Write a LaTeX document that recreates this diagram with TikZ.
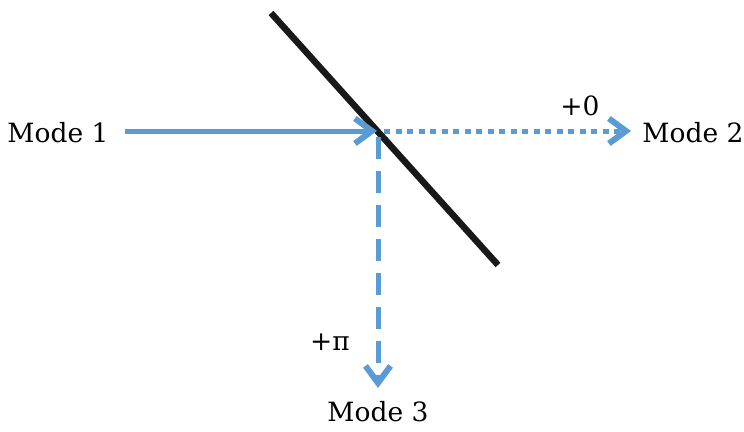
\documentclass[tikz,border=0pt]{standalone}
\usepackage{fontspec}
\setmainfont{DejaVu Serif}
\usetikzlibrary{arrows.meta}
\definecolor{beam}{HTML}{5B9BD5}
\tikzset{
  lbl/.style={font=\fontsize{26.5}{30}\selectfont, inner sep=2pt},
  beamline/.style={draw=beam, line width=5pt, -{Straight Barb[length=17pt,width=25pt,line width=6pt]}},
}
\begin{document}
\begin{tikzpicture}[x=1pt,y=-1pt]
\useasboundingbox (0,0) rectangle (744,431);
\coordinate (bs1) at (271,13);
\coordinate (bs2) at (498,265);
\coordinate (X) at (378,131);
\draw[line width=6.5pt, black!90] (bs1) -- (bs2);
\node[lbl] (m1) at (58,133) {Mode 1};
\node[lbl] (m2) at (693,133) {Mode 2};
\node[lbl] (m3) at (378,412) {Mode 3};
\node[lbl] (p0) at (580,106) {+0};
\node[lbl] (ppi) at (330,342) {+π};
\coordinate (a1s) at (125,131);
\coordinate (a1e) at (377,131);
\coordinate (a2s) at (384,131);
\coordinate (a2e) at (631,131);
\coordinate (a3s) at (378,137);
\coordinate (a3e) at (378,388);
\draw[beamline] (a1s) -- (a1e);
\draw[beamline, dash pattern=on 6pt off 5.5pt] (a2s) -- (a2e);
\draw[beamline, dash pattern=on 22pt off 12pt] (a3s) -- (a3e);
\end{tikzpicture}
\end{document}
